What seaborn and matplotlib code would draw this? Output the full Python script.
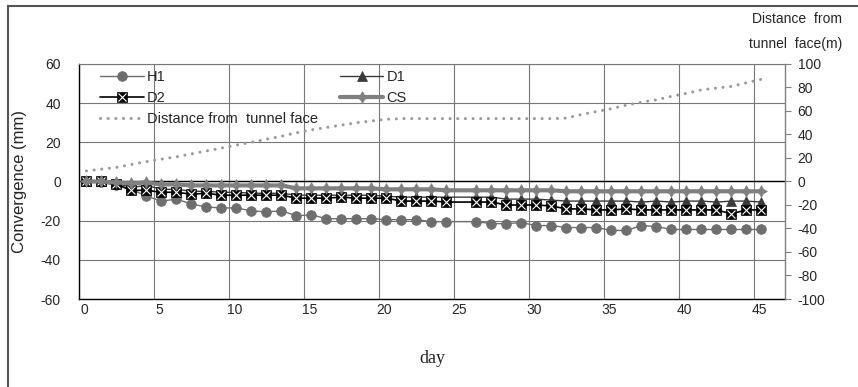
import matplotlib
matplotlib.use("Agg")
import matplotlib.pyplot as plt
import matplotlib.transforms as mtransforms
from matplotlib.patches import Rectangle
import pandas as pd
import seaborn as sns

# day positions (no reading at 25.5)
days = [0.5, 1.5, 2.5, 3.5, 4.5, 5.5, 6.5, 7.5, 8.5, 9.5,
        10.5, 11.5, 12.5, 13.5, 14.5, 15.5, 16.5, 17.5, 18.5, 19.5,
        20.5, 21.5, 22.5, 23.5, 24.5, 26.5, 27.5, 28.5, 29.5, 30.5,
        31.5, 32.5, 33.5, 34.5, 35.5, 36.5, 37.5, 38.5, 39.5, 40.5,
        41.5, 42.5, 43.5, 44.5, 45.5]

h1 = [0, -0.5, -2, -4, -7.5, -10, -9, -11.5, -13, -13.5,
      -13.5, -15, -15.5, -15, -17.5, -17, -19, -19, -19, -19,
      -19.5, -19.5, -19.5, -20.5, -20.5, -20.5, -21.5, -21.5, -21, -22.5,
      -22.5, -23.5, -23.5, -23.5, -25, -25, -22.5, -23, -24.5, -24.5,
      -24.5, -24.5, -24.5, -24.5, -24.5]

d1 = [0, 0, -1, -3, -2, -4, -4, -5, -5, -5.5,
      -5.5, -6, -6, -6, -7, -7, -7, -7, -7, -7,
      -7.5, -8, -8, -8, -8, -8, -8, -9, -9, -9,
      -9.5, -10, -10, -10, -10, -10, -10.5, -10, -10.5, -10,
      -10, -10.5, -10, -10, -10.5]

d2 = [0, 0, -1.5, -4.5, -4.5, -5.5, -5.5, -6.5, -6, -7,
      -7, -7, -7, -7, -8.5, -8.5, -8.5, -8, -8.5, -8.5,
      -8.5, -10, -10, -10, -10.5, -10.5, -10.5, -12, -12, -12,
      -12.5, -14, -14, -14.5, -14.5, -14, -14.5, -14.5, -14.5, -14.5,
      -14.5, -14.5, -16.5, -14.5, -14.5]

cs = [0, 0, -0.5, -1, -0.5, -1.5, -1.5, -2, -2, -2,
      -2, -2, -2, -2, -3.5, -3.5, -3.5, -3.5, -3.5, -3.5,
      -4, -4, -4, -4, -4.5, -4.5, -4.5, -4.5, -4.5, -4.5,
      -4.5, -5, -5, -5, -5, -5, -5, -5, -5, -5,
      -5, -5, -5, -5, -5]

distance = [9, 10.5, 12, 14.5, 17, 19, 21, 23.5, 26, 28.5,
            31, 33.5, 36, 38.5, 41.5, 44, 46, 48, 50, 51.5,
            53, 53.5, 53.5, 53.5, 53.5, 53.5, 53.5, 53.5, 53.5, 53.5,
            53.5, 54, 57, 59.5, 62, 65, 67.5, 69.5, 72.5, 75,
            78, 79.5, 81, 84, 87]

x_ticks = [0, 5, 10, 15, 20, 25, 30, 35, 40, 45]
y_ticks = [-60, -40, -20, 0, 20, 40, 60]
y2_ticks = [-100, -80, -60, -40, -20, 0, 20, 40, 60, 80, 100]

df = pd.DataFrame({"day": days, "H1": h1, "D1": d1, "D2": d2, "CS": cs,
                   "Distance": distance})

sns.set_style("white")
plt.rcParams["font.family"] = ["Liberation Sans", "DejaVu Sans"]
plt.rcParams["axes.unicode_minus"] = False

fig = plt.figure(figsize=(8.58, 3.87), dpi=100)
ax = fig.add_axes([0.09207, 0.22739, 0.82285, 0.60724])

ax.axhline(0, color="black", lw=1, zorder=1.5)

sns.lineplot(data=df, x="day", y="H1", ax=ax, color="#6e6e6e", lw=1,
             marker="o", markersize=7, markeredgecolor="#6e6e6e",
             markeredgewidth=0.5, legend=False)
sns.lineplot(data=df, x="day", y="D1", ax=ax, color="#3a3a3a", lw=1,
             marker="^", markersize=7.5, markeredgecolor="#3a3a3a",
             markeredgewidth=0.5, legend=False)
sns.lineplot(data=df, x="day", y="D2", ax=ax, color="black", lw=1.2,
             marker="s", markersize=7.5, markeredgecolor="black",
             markeredgewidth=0.5, legend=False)
sns.lineplot(data=df, x="day", y="D2", ax=ax, color="#505050", linestyle="",
             marker="x", markersize=5.5, markeredgewidth=0.8, legend=False)
sns.lineplot(data=df, x="day", y="CS", ax=ax, color="#808080", lw=3,
             marker=(4, 1, 0), markersize=8.5, markeredgecolor="#808080",
             markeredgewidth=0.5, legend=False)
h1_line, d1_line, d2_sq, d2_x, cs_line = ax.lines[1:6]

ax.set_xlim(0, 47.07)
ax.set_ylim(-60, 60)
ax.set_xticks(x_ticks)
ax.set_yticks(y_ticks)
ax.grid(True, color="#777777", lw=0.8)
ax.set_axisbelow(True)
ax.tick_params(axis="both", length=0, labelsize=10)
ax.tick_params(axis="y", pad=13)
ax.tick_params(axis="x", pad=3)
for s in ["left", "bottom"]:
    ax.spines[s].set_color("black")
    ax.spines[s].set_linewidth(1)
ax.spines["top"].set_color("#777777")
ax.spines["top"].set_linewidth(0.8)
ax.spines["right"].set_visible(False)

# nudge x labels slightly right like the original
offset = mtransforms.ScaledTranslation(4 / 72, 0, fig.dpi_scale_trans)
for lbl in ax.get_xticklabels():
    lbl.set_transform(lbl.get_transform() + offset)

ax.set_xlabel("day", family="Liberation Serif", fontsize=13)
ax.xaxis.set_label_coords(0.5, -0.217)
ax.set_ylabel("Convergence (mm)", fontsize=12)
ax.yaxis.set_label_coords(-0.074, 0.5)

# second axis for distance from tunnel face
ax2 = ax.twinx()
sns.lineplot(data=df, x="day", y="Distance", ax=ax2, color="#9a9a9a", lw=2.2,
             linestyle=(0, (0.01, 2.5)), dash_capstyle="round", legend=False)
dist_line = ax2.lines[0]
ax2.set_ylim(-100, 100)
ax2.set_yticks(y2_ticks)
ax2.set_ylabel("")
ax2.grid(False)
ax2.tick_params(axis="y", length=4, color="#808080", pad=5, labelsize=10)
for s in ["left", "top", "bottom"]:
    ax2.spines[s].set_visible(False)
ax2.spines["right"].set_color("#808080")
ax2.spines["right"].set_linewidth(1)

ax2.legend([h1_line, (d2_sq, d2_x), dist_line, d1_line, cs_line],
           ["H1", "D2", "Distance from  tunnel face", "D1", "CS"],
           ncol=2, loc="upper left", bbox_to_anchor=(0.03, 0.975),
           frameon=False, fontsize=10.5, handlelength=3.0, handletextpad=0.2,
           labelspacing=0.5, columnspacing=1.5, borderpad=0, borderaxespad=0)

fig.text(842 / 858, 1 - 19 / 387, "Distance  from", ha="right", va="center", fontsize=10)
fig.text(842 / 858, 1 - 44 / 387, "tunnel  face(m)", ha="right", va="center", fontsize=10)

# outer chart border
fig.patches.append(Rectangle((8 / 858, -0.1), 1.2, 1.0845, fill=False,
                             edgecolor="#555555", lw=1.5,
                             transform=fig.transFigure, figure=fig))

fig.savefig("out.png", dpi=100)
